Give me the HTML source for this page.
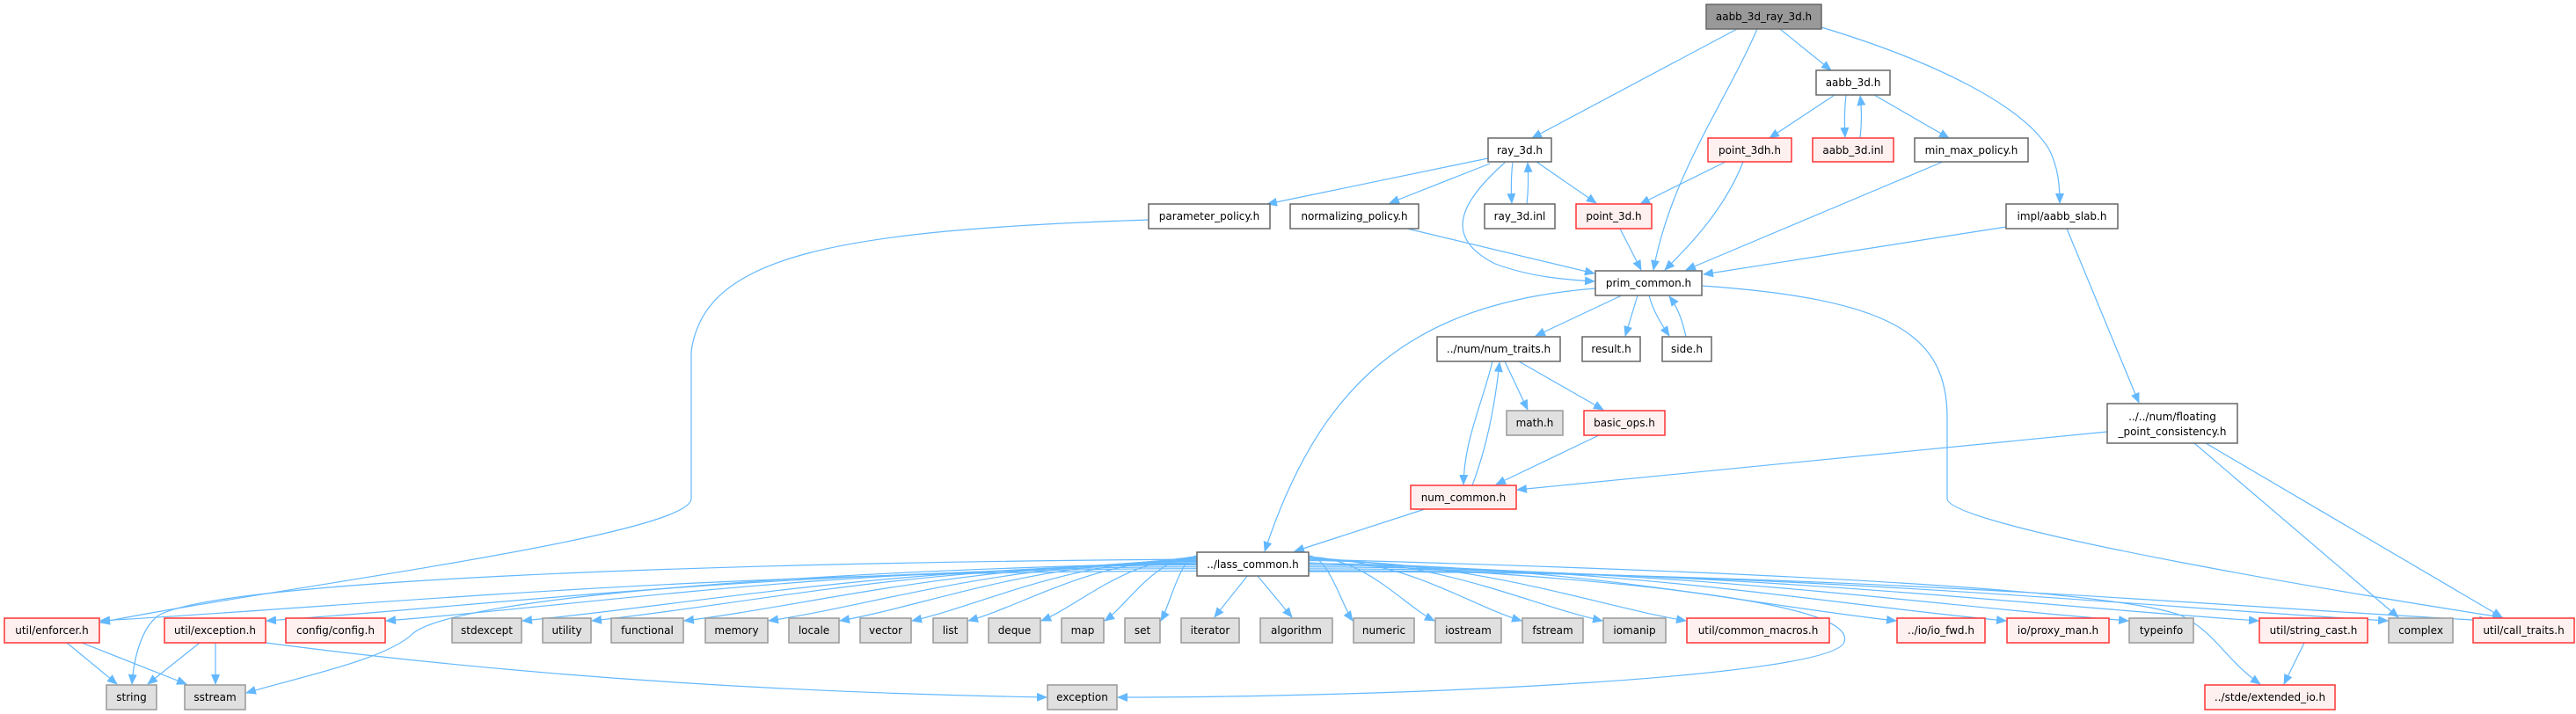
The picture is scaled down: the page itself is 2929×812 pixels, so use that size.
<!DOCTYPE html>
<html><head><meta charset="utf-8"><style>
html,body{margin:0;padding:0;background:#fff;}
svg{display:block;}
text{font-family:"DejaVu Sans","Liberation Sans",sans-serif;font-size:12px;fill:#000;text-anchor:middle;}
.e{fill:none;stroke:#63b8ff;stroke-width:1.2;marker-end:url(#a);}
.n rect{fill:#fff;stroke:#666;stroke-width:1.5;}
.r rect{fill:#fff0f0;stroke:#ff3333;stroke-width:1.5;}
.g rect{fill:#e0e0e0;stroke:#999;stroke-width:1.5;}
.k rect{fill:#999;stroke:#666;stroke-width:1.5;}
</style></head><body>
<svg id="s" width="2929" height="812" viewBox="0 0 2929 812" xmlns="http://www.w3.org/2000/svg">
<defs><marker id="a" markerWidth="12" markerHeight="10" refX="11" refY="5" orient="auto" markerUnits="userSpaceOnUse"><path d="M0,0 L12,5 L0,10 z" fill="#63b8ff"/></marker></defs>
<g id="edges">
<path class="e" d="M1975,33 L1742,157"/>
<path class="e" d="M1998,33 C1960,120 1900,200 1880,307"/>
<path class="e" d="M2024,33 L2082,80"/>
<path class="e" d="M2071,31 C2200,70 2300,120 2330,170 C2340,190 2342,210 2342,231"/>
<path class="e" d="M2086,108 L2012,157"/>
<path class="e" d="M2099,108 C2097,125 2097,140 2098,156"/>
<path class="e" d="M2115,157 C2117,140 2117,125 2115,109"/>
<path class="e" d="M2131,108 L2216,157"/>
<path class="e" d="M1962,184 L1865,232"/>
<path class="e" d="M1982,184 C1960,240 1920,280 1893,307"/>
<path class="e" d="M2209,184 L1917,307"/>
<path class="e" d="M2281,258 L1937,312"/>
<path class="e" d="M2350,260 L2432,458"/>
<path class="e" d="M1692,180 L1441,232"/>
<path class="e" d="M1694,186 L1580,231"/>
<path class="e" d="M1720,185 C1718,200 1718,215 1719,231"/>
<path class="e" d="M1736,232 C1738,215 1738,200 1737,185"/>
<path class="e" d="M1747,184 L1815,231"/>
<path class="e" d="M1711,185 C1660,230 1640,270 1700,300 C1740,315 1780,318 1813,320"/>
<path class="e" d="M1306,250 C950,262 800,290 786,400 L786,567 C786,610 300,670 114,708"/>
<path class="e" d="M1600,260 L1813,311"/>
<path class="e" d="M1842,260 L1866,307"/>
<path class="e" d="M1844,336 L1746,382"/>
<path class="e" d="M1862,336 L1848,382"/>
<path class="e" d="M1875,336 C1880,355 1890,370 1898,382"/>
<path class="e" d="M1917,383 C1913,365 1908,350 1898,337"/>
<path class="e" d="M1814,328 C1600,345 1500,440 1438,627"/>
<path class="e" d="M1935,325 C2150,340 2214,380 2214,475 L2214,567 C2214,600 2700,680 2845,702"/>
<path class="e" d="M1697,411 C1685,460 1665,500 1664,551"/>
<path class="e" d="M1674,552 C1690,510 1700,460 1705,412"/>
<path class="e" d="M1711,411 L1737,466"/>
<path class="e" d="M1727,411 L1823,466"/>
<path class="e" d="M1818,495 L1701,551"/>
<path class="e" d="M2396,491 L1725,557"/>
<path class="e" d="M2495,504 L2727,702"/>
<path class="e" d="M2508,504 L2845,702"/>
<path class="e" d="M1620,579 L1472,627"/>
<path class="e" d="M76,731 L133,778"/>
<path class="e" d="M93,731 L212,778"/>
<path class="e" d="M227,731 L168,778"/>
<path class="e" d="M245,731 L245,778"/>
<path class="e" d="M302,731 C600,770 900,788 1190,793"/>
<path class="e" d="M2620,731 L2597,778"/>
<path class="e" d="M1361,636 C800,640 250,660 180,700 C160,715 152,750 150,778"/>
<path class="e" d="M1361,640 C900,650 520,680 470,720 C440,750 340,770 280,788"/>
<path class="e" d="M1488,640 C1900,660 2110,690 2097,730 C2085,770 1600,793 1271,793"/>
<path class="e" d="M1488,636 C2000,650 2400,670 2480,700 C2520,720 2530,750 2570,778"/>
</g>
<g id="nodes">
<g class="k"><rect x="1940" y="5" width="131" height="28"/><text x="2005.5" y="23">aabb_3d_ray_3d.h</text></g>
<g class="n"><rect x="2065" y="80" width="84" height="28"/><text x="2107" y="98">aabb_3d.h</text></g>
<g class="n"><rect x="1692" y="157" width="72" height="27"/><text x="1728" y="175">ray_3d.h</text></g>
<g class="r"><rect x="1942" y="157" width="95" height="27"/><text x="1989.5" y="175">point_3dh.h</text></g>
<g class="r"><rect x="2061" y="157" width="92" height="27"/><text x="2107" y="175">aabb_3d.inl</text></g>
<g class="n"><rect x="2177" y="157" width="129" height="27"/><text x="2241.5" y="175">min_max_policy.h</text></g>
<g class="n"><rect x="1306" y="232" width="138" height="28"/><text x="1375" y="250">parameter_policy.h</text></g>
<g class="n"><rect x="1467" y="232" width="146" height="28"/><text x="1540" y="250">normalizing_policy.h</text></g>
<g class="n"><rect x="1688" y="232" width="80" height="28"/><text x="1728" y="250">ray_3d.inl</text></g>
<g class="r"><rect x="1792" y="232" width="86" height="28"/><text x="1835" y="250">point_3d.h</text></g>
<g class="n"><rect x="2281" y="232" width="127" height="28"/><text x="2344.5" y="250">impl/aabb_slab.h</text></g>
<g class="n"><rect x="1814" y="308" width="121" height="28"/><text x="1874.5" y="326">prim_common.h</text></g>
<g class="n"><rect x="1634" y="383" width="140" height="28"/><text x="1704" y="401">../num/num_traits.h</text></g>
<g class="n"><rect x="1799" y="383" width="66" height="28"/><text x="1832" y="401">result.h</text></g>
<g class="n"><rect x="1890" y="383" width="56" height="28"/><text x="1918" y="401">side.h</text></g>
<g class="g"><rect x="1713" y="467" width="64" height="28"/><text x="1745" y="485">math.h</text></g>
<g class="r"><rect x="1801" y="467" width="92" height="28"/><text x="1847" y="485">basic_ops.h</text></g>
<g class="n"><rect x="2396" y="459" width="148" height="45"/><text x="2470" y="478">../../num/floating</text><text x="2470" y="495">_point_consistency.h</text></g>
<g class="r"><rect x="1604" y="552" width="120" height="27"/><text x="1664" y="570">num_common.h</text></g>
<g class="n"><rect x="1361" y="628" width="127" height="27"/><text x="1424.5" y="646">../lass_common.h</text></g>
<g id="row"></g>
<g class="g"><rect x="121" y="779" width="57" height="28"/><text x="149.5" y="797">string</text></g>
<g class="g"><rect x="210" y="779" width="69" height="28"/><text x="244.5" y="797">sstream</text></g>
<g class="g"><rect x="1191" y="779" width="79" height="28"/><text x="1230.5" y="797">exception</text></g>
<g class="r"><rect x="2507" y="779" width="148" height="28"/><text x="2581" y="797">../stde/extended_io.h</text></g>
</g>
<g class="r"><rect x="5" y="703" width="108" height="28"/><text x="59" y="721">util/enforcer.h</text></g>
<g class="r"><rect x="187" y="703" width="115" height="28"/><text x="244.5" y="721">util/exception.h</text></g>
<g class="r"><rect x="325" y="703" width="113" height="28"/><text x="381.5" y="721">config/config.h</text></g>
<g class="g"><rect x="514" y="703" width="79" height="28"/><text x="553.5" y="721">stdexcept</text></g>
<g class="g"><rect x="617" y="703" width="55" height="28"/><text x="644.5" y="721">utility</text></g>
<g class="g"><rect x="695" y="703" width="82" height="28"/><text x="736" y="721">functional</text></g>
<g class="g"><rect x="802" y="703" width="71" height="28"/><text x="837.5" y="721">memory</text></g>
<g class="g"><rect x="897" y="703" width="57" height="28"/><text x="925.5" y="721">locale</text></g>
<g class="g"><rect x="978" y="703" width="58" height="28"/><text x="1007" y="721">vector</text></g>
<g class="g"><rect x="1061" y="703" width="39" height="28"/><text x="1080.5" y="721">list</text></g>
<g class="g"><rect x="1124" y="703" width="59" height="28"/><text x="1153.5" y="721">deque</text></g>
<g class="g"><rect x="1207" y="703" width="48" height="28"/><text x="1231" y="721">map</text></g>
<g class="g"><rect x="1279" y="703" width="40" height="28"/><text x="1299" y="721">set</text></g>
<g class="g"><rect x="1343" y="703" width="66" height="28"/><text x="1376" y="721">iterator</text></g>
<g class="g"><rect x="1433" y="703" width="82" height="28"/><text x="1474" y="721">algorithm</text></g>
<g class="g"><rect x="1539" y="703" width="69" height="28"/><text x="1573.5" y="721">numeric</text></g>
<g class="g"><rect x="1632" y="703" width="75" height="28"/><text x="1669.5" y="721">iostream</text></g>
<g class="g"><rect x="1731" y="703" width="69" height="28"/><text x="1765.5" y="721">fstream</text></g>
<g class="g"><rect x="1823" y="703" width="71" height="28"/><text x="1858.5" y="721">iomanip</text></g>
<g class="r"><rect x="1918" y="703" width="162" height="28"/><text x="1999" y="721">util/common_macros.h</text></g>
<g class="r"><rect x="2157" y="703" width="100" height="28"/><text x="2207" y="721">../io/io_fwd.h</text></g>
<g class="r"><rect x="2282" y="703" width="116" height="28"/><text x="2340" y="721">io/proxy_man.h</text></g>
<g class="g"><rect x="2421" y="703" width="73" height="28"/><text x="2457.5" y="721">typeinfo</text></g>
<g class="r"><rect x="2569" y="703" width="123" height="28"/><text x="2630.5" y="721">util/string_cast.h</text></g>
<g class="g"><rect x="2716" y="703" width="73" height="28"/><text x="2752.5" y="721">complex</text></g>
<g class="r"><rect x="2812" y="703" width="115" height="28"/><text x="2869.5" y="721">util/call_traits.h</text></g>
</svg>
<script>
(function(){
var T=[[5,113,1],[187,302,1],[325,438,1],[514,593],[617,672],[695,777],[802,873],[897,954],[978,1036],[1061,1100],[1124,1183],[1207,1255],[1279,1319],[1343,1409],[1433,1515],[1539,1608],[1632,1707],[1731,1800],[1823,1894],[1918,2080],[2157,2257],[2282,2398],[2421,2494],[2569,2692],[2716,2789],[2812,2927]];
var g=document.getElementById('edges'),ns='http://www.w3.org/2000/svg';
T.forEach(function(t,i){
 var l=t[0],r=t[1],c=(l+r)/2,sx,sy,ex,ey,d;
 if(r<1330){sx=1361;sy=632+Math.min(18,(1330-r)/70);ex=r+1;ey=706;
  d='M'+sx+','+sy+' C'+(sx-(sx-ex)*0.45)+','+sy+' '+(ex+(sx-ex)*0.25)+','+(ey-18)+' '+ex+','+ey;}
 else if(l>1530){sx=1488;sy=632+Math.min(18,(l-1530)/70);ex=l-1;ey=706;
  if(t===T[25])ex=2830;
  d='M'+sx+','+sy+' C'+(sx+(ex-sx)*0.45)+','+sy+' '+(ex-(ex-sx)*0.25)+','+(ey-18)+' '+ex+','+ey;}
 else{sx=1424+(c-1424)*0.12;sy=655;ex=c+(1424-c)*0.1;ey=702;d='M'+sx+','+sy+' L'+ex+','+ey;}
 var p=document.createElementNS(ns,'path');p.setAttribute('class','e');p.setAttribute('d',d);g.appendChild(p);
});
})();
</script>
</body></html>
